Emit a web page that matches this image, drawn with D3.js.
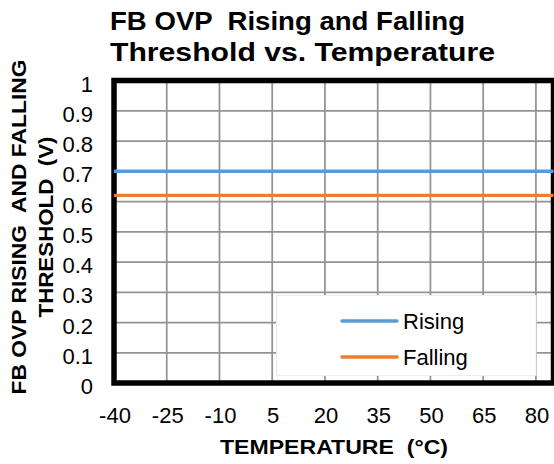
<!DOCTYPE html>
<html>
<head>
<meta charset="utf-8">
<script src="https://cdn.jsdelivr.net/npm/d3@7"></script>
<style>
  body { margin:0; background:#fff; }
  text { font-family:"Liberation Sans", Arial, sans-serif; fill:#000; }
</style>
</head>
<body>
<script>
// chart data
var temperatures = [-40, 0, 25, 85];
var risingValues = [0.7, 0.7, 0.7, 0.7];
var fallingValues = [0.62, 0.62, 0.62, 0.62];
var xTicks = [-40, -25, -10, 5, 20, 35, 50, 65, 80];
var yTicks = [0, 0.1, 0.2, 0.3, 0.4, 0.5, 0.6, 0.7, 0.8, 0.9, 1];
var seriesNames = ["Rising", "Falling"];
var seriesColors = ["#5B9BD5", "#ED7D31"];

var width = 554;
var height = 464;

var plot = {
  left:114,
  right:553.5,
  top:80.5,
  bottom:383
}

var svg = d3.select("body").append("svg")
            .attr("width",width)
            .attr("height",height);

var xScale = d3.scaleLinear()
            .domain([-40,85])
            .range([plot.left,plot.right]);

var yScale = d3.scaleLinear()
            .domain([0,1])
            .range([plot.bottom,plot.top]);

// gridlines
var grid = svg.append("g");
grid.selectAll(".hgrid")
  .data(yTicks)
  .enter()
  .append("line")
  .attr("x1",plot.left)
  .attr("x2",plot.right)
  .attr("y1",function(d){ return yScale(d); })
  .attr("y2",function(d){ return yScale(d); })
  .attr("stroke","#939393")
  .attr("stroke-width",1.75);

grid.selectAll(".vgrid")
  .data(xTicks)
  .enter()
  .append("line")
  .attr("x1",function(d){ return xScale(d); })
  .attr("x2",function(d){ return xScale(d); })
  .attr("y1",plot.top)
  .attr("y2",plot.bottom)
  .attr("stroke","#939393")
  .attr("stroke-width",1.75);

// legend box sits over the grid
svg.append("rect")
  .attr("x",276.5)
  .attr("y",295.5)
  .attr("width",259.5)
  .attr("height",80)
  .attr("fill","#fff")
  .attr("stroke","#ececec")
  .attr("stroke-width",1);

// plot frame
svg.append("rect")
  .attr("x",plot.left)
  .attr("y",plot.top)
  .attr("width",plot.right-plot.left)
  .attr("height",plot.bottom-plot.top)
  .attr("fill","none")
  .attr("stroke","#000")
  .attr("stroke-width",5.5);

// series lines
var line = d3.line()
  .x(function(d){ return xScale(d.t); })
  .y(function(d){ return yScale(d.v); });

[risingValues, fallingValues].forEach(function(vals,i){
  var pts = temperatures.map(function(t,j){ return {t:t, v:vals[j]}; });
  svg.append("path")
    .datum(pts)
    .attr("d",line)
    .attr("fill","none")
    .attr("stroke",seriesColors[i])
    .attr("stroke-width",3.3);
});

// y tick labels
svg.selectAll(".ylab")
  .data(yTicks)
  .enter()
  .append("text")
  .attr("x",93)
  .attr("y",function(d){ return yScale(d)+11; })
  .attr("text-anchor","end")
  .style("font-size","22px")
  .text(function(d){ return d; });

// x tick labels
svg.selectAll(".xlab")
  .data(xTicks)
  .enter()
  .append("text")
  .attr("x",function(d){ return xScale(d)+1; })
  .attr("y",423)
  .attr("text-anchor","middle")
  .style("font-size","22px")
  .text(function(d){ return d; });

// legend entries
seriesNames.forEach(function(name,i){
  var ly = 321 + i*36;
  svg.append("line")
    .attr("x1",342)
    .attr("x2",397)
    .attr("y1",ly)
    .attr("y2",ly)
    .attr("stroke",seriesColors[i])
    .attr("stroke-width",3.5)
    .attr("stroke-linecap","round");
  svg.append("text")
    .attr("x",403)
    .attr("y",ly+8)
    .style("font-size","22px")
    .text(name);
});

// title
var title = ["FB OVP  Rising and Falling", "Threshold vs. Temperature"];
var titleLen = [355, 385];
title.forEach(function(t,i){
  svg.append("text")
    .attr("x",110)
    .attr("y",30+i*31)
    .attr("textLength",titleLen[i])
    .attr("lengthAdjust","spacingAndGlyphs")
    .style("font-size","26px")
    .style("font-weight","bold")
    .style("white-space","pre")
    .text(t);
});

// axis titles
svg.append("text")
  .attr("x",334)
  .attr("y",454)
  .attr("text-anchor","middle")
  .attr("textLength",228)
  .attr("lengthAdjust","spacingAndGlyphs")
  .style("font-size","21px")
  .style("font-weight","bold")
  .style("white-space","pre")
  .text("TEMPERATURE  (°C)");

var yTitle = ["FB OVP RISING  AND FALLING", "THRESHOLD  (V)"];
var yTitleLen = [335, 181];
var yTitleX = [26, 53];
yTitle.forEach(function(t,i){
  svg.append("text")
    .attr("transform","translate("+yTitleX[i]+",227) rotate(-90)")
    .attr("text-anchor","middle")
    .attr("textLength",yTitleLen[i])
    .attr("lengthAdjust","spacingAndGlyphs")
    .style("font-size","21px")
    .style("font-weight","bold")
    .style("white-space","pre")
    .text(t);
});
</script>
</body>
</html>
